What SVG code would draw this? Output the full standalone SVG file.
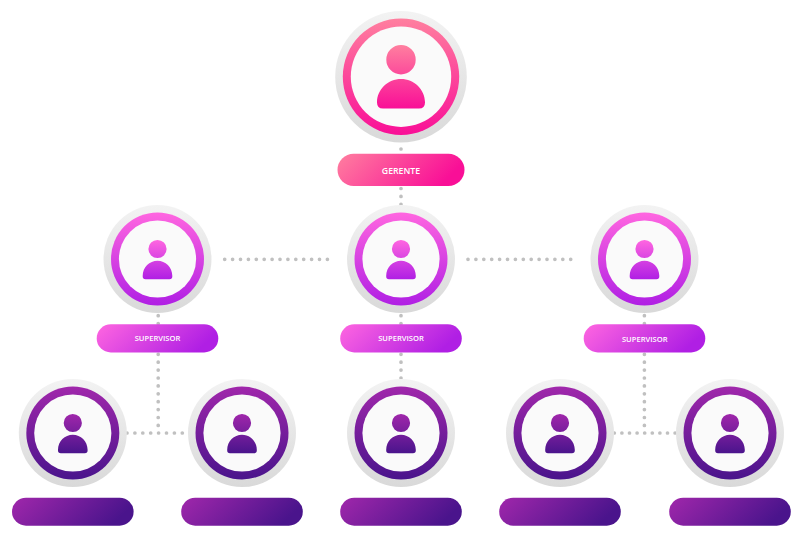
<svg xmlns="http://www.w3.org/2000/svg" width="800" height="550" viewBox="0 0 800 550">
<style>
.dots{fill:none;stroke:#c0c0c0;stroke-width:3.7;stroke-linecap:round;stroke-dasharray:0 7.9}
.face{fill:#fafafa}
.lbl{font-family:"Open Sans","Liberation Sans",sans-serif;font-weight:600;fill:#fff;text-anchor:middle}
.ot{fill:url(#halo)}
.ap1{fill:url(#v1)}.ap2{fill:url(#v2)}.ap3{fill:url(#v3)}
.pl1{fill:url(#h1)}.pl2{fill:url(#h2)}.pl3{fill:url(#h3)}
</style>
<defs>
<linearGradient id="halo" x1="0" y1="0" x2="0" y2="1"><stop offset="0" stop-color="#f3f3f3"/><stop offset="1" stop-color="#d9d9d9"/></linearGradient>
<linearGradient id="v1" x1="0" y1="0" x2="0" y2="1"><stop offset="0" stop-color="#ff7f9f"/><stop offset="1" stop-color="#f90f97"/></linearGradient>
<linearGradient id="v2" x1="0" y1="0" x2="0" y2="1"><stop offset="0" stop-color="#ff66e0"/><stop offset="1" stop-color="#b01fe4"/></linearGradient>
<linearGradient id="v3" x1="0" y1="0" x2="0" y2="1"><stop offset="0" stop-color="#a027ab"/><stop offset="1" stop-color="#4a148c"/></linearGradient>
<linearGradient id="h1" x1="0" y1="0" x2="1" y2="0.25"><stop offset="0" stop-color="#ff7f9f"/><stop offset="1" stop-color="#f90f97"/></linearGradient>
<linearGradient id="h2" x1="0" y1="0" x2="1" y2="0.25"><stop offset="0" stop-color="#ff66e0"/><stop offset="1" stop-color="#b01fe4"/></linearGradient>
<linearGradient id="h3" x1="0" y1="0" x2="1" y2="0.25"><stop offset="0" stop-color="#a027ab"/><stop offset="1" stop-color="#4a148c"/></linearGradient>
<g id="av">
<circle class="ot" r="54"/>
<circle r="46.5"/>
<circle class="face" r="38.6"/>
<path d="M0 -19.1A9.1 9.1 0 1 1 0 -0.9A9.1 9.1 0 1 1 0 -19.1ZM-14.8 17.5V16.7C-14.8 8.2 -8 1.7 0 1.7S14.8 8.2 14.8 16.7V17.5Q14.8 20.3 12 20.3H-12Q-14.8 20.3 -14.8 17.5Z"/>
</g>
</defs>
<g id="connectors" class="dots">
<path d="M401 149V150M401 188.5V206"/>
<path d="M224.7 259.3H329M468 259.3H572"/>
<path d="M158.2 315.7V325M158.2 354.3V426M127 433H183"/>
<path d="M401 315.7V325M401 354.3V379"/>
<path d="M644.4 315.7V325M644.4 354.3V426"/>
<path d="M614.3 433H676" style="stroke-dasharray:0 7.6"/>
</g>
<g id="gerente">
<circle class="ot" cx="401" cy="76.7" r="65.8"/>
<circle class="ap1" cx="401" cy="76.7" r="58.2"/>
<circle class="face" cx="401" cy="76.7" r="50.2"/>
<path class="ap1" d="M401 45A14.7 14.7 0 1 1 401 74.4A14.7 14.7 0 1 1 401 45ZM377 102.5V102C377 89.5 388 79 401 79S425 89.5 425 102V102.5Q425 108.5 419 108.5H383Q377 108.5 377 102.5Z"/>
<rect class="pl1" x="337.5" y="153.7" width="127" height="32.3" rx="16.15"/>
<text class="lbl" x="401" y="174" font-size="9.2" textLength="38.3" lengthAdjust="spacingAndGlyphs">GERENTE</text>
</g>
<g id="sup1">
<use href="#av" x="157.5" y="259" class="ap2"/>
<rect class="pl2" x="96.7" y="324.3" width="121.6" height="28.2" rx="14.1"/>
<text class="lbl" x="157.5" y="341" font-size="7.7" textLength="45.7" lengthAdjust="spacingAndGlyphs">SUPERVISOR</text>
</g>
<g id="sup2">
<use href="#av" x="401" y="259" class="ap2"/>
<rect class="pl2" x="340.2" y="324.3" width="121.6" height="28.2" rx="14.1"/>
<text class="lbl" x="401" y="341" font-size="7.7" textLength="45.7" lengthAdjust="spacingAndGlyphs">SUPERVISOR</text>
</g>
<g id="sup3">
<use href="#av" x="644.5" y="259" class="ap2"/>
<rect class="pl2" x="583.7" y="324.3" width="121.6" height="28.2" rx="14.1"/>
<text class="lbl" x="644.8" y="342" font-size="7.7" textLength="45.7" lengthAdjust="spacingAndGlyphs">SUPERVISOR</text>
</g>
<g id="emp1"><use href="#av" x="72.8" y="433" class="ap3"/><rect class="pl3" x="12" y="497.7" width="121.6" height="28" rx="14"/></g>
<g id="emp2"><use href="#av" x="242" y="433" class="ap3"/><rect class="pl3" x="181.2" y="497.7" width="121.6" height="28" rx="14"/></g>
<g id="emp3"><use href="#av" x="401" y="433" class="ap3"/><rect class="pl3" x="340.2" y="497.7" width="121.6" height="28" rx="14"/></g>
<g id="emp4"><use href="#av" x="560" y="433" class="ap3"/><rect class="pl3" x="499.2" y="497.7" width="121.6" height="28" rx="14"/></g>
<g id="emp5"><use href="#av" x="730" y="433" class="ap3"/><rect class="pl3" x="669.2" y="497.7" width="121.6" height="28" rx="14"/></g>
</svg>
